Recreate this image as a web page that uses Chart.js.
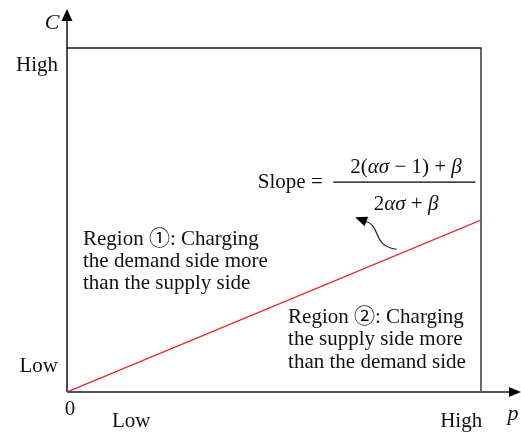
<!DOCTYPE html>
<html>
<head>
<meta charset="utf-8">
<script src="https://cdn.jsdelivr.net/npm/chart.js@4/dist/chart.umd.min.js"></script>
<style>
  html, body { margin: 0; padding: 0; background: #fff; }
  #wrap { width: 521px; height: 433px; }
</style>
</head>
<body>
<div id="wrap"><canvas id="c" width="521" height="433"></canvas></div>
<script>
// Boundary between the two charging regions, in normalised (p, C) units
const pValues = [0, 1];
const cValues = [0, 0.5];

// Qualitative tick marks on both axes
const pTickValues = [0.155, 0.952];
const pTickLabels = ['Low', 'High'];
const cTickValues = [0.073, 0.95];
const cTickLabels = ['Low', 'High'];

const SERIF = '"Liberation Serif", "Times New Roman", serif';
const CJK = '"Noto Sans CJK SC", "DejaVu Sans", sans-serif';
const INK = '#111';

function runFont(r, size) {
  if (r.cjk) return size + 'px ' + CJK;
  return (r.it ? 'italic ' : '') + size + 'px ' + SERIF;
}

// Draws a run of mixed upright / italic text starting at x (or centred on x)
function drawRuns(ctx, runs, x, y, size, centred) {
  let total = 0;
  const widths = runs.map(r => {
    ctx.font = runFont(r, size);
    const w = ctx.measureText(r.t).width;
    total += w;
    return w;
  });
  let cx = centred ? x - total / 2 : x;
  ctx.textAlign = 'left';
  runs.forEach((r, i) => {
    ctx.font = runFont(r, size);
    ctx.fillText(r.t, cx, y);
    cx += widths[i];
  });
}

const decorations = {
  id: 'decorations',
  beforeDatasetsDraw(chart) {
    const { ctx, chartArea: a } = chart;
    ctx.save();
    // top and right frame
    ctx.strokeStyle = '#1a1a1a';
    ctx.lineWidth = 1.3;
    ctx.beginPath();
    ctx.moveTo(a.left, a.top);
    ctx.lineTo(a.right, a.top);
    ctx.lineTo(a.right, a.bottom);
    ctx.stroke();
    ctx.restore();
  },
  afterDraw(chart) {
    const { ctx, scales } = chart;
    const X = v => scales.x.getPixelForValue(v);
    const Y = v => scales.y.getPixelForValue(v);
    ctx.save();

    // C axis with arrow
    const ox = X(0), oy = Y(0);
    ctx.strokeStyle = '#000';
    ctx.lineWidth = 1.4;
    ctx.beginPath();
    ctx.moveTo(ox, oy);
    ctx.lineTo(ox, 18);
    ctx.stroke();
    ctx.fillStyle = '#000';
    ctx.beginPath();
    ctx.moveTo(ox, 9);
    ctx.lineTo(ox - 5.5, 21);
    ctx.lineTo(ox + 5.5, 21);
    ctx.closePath();
    ctx.fill();

    // p axis with arrow
    ctx.strokeStyle = '#555';
    ctx.lineWidth = 2;
    ctx.beginPath();
    ctx.moveTo(ox, oy);
    ctx.lineTo(512, oy);
    ctx.stroke();
    ctx.fillStyle = '#000';
    ctx.beginPath();
    ctx.moveTo(521, oy);
    ctx.lineTo(509, oy - 5);
    ctx.lineTo(509, oy + 5);
    ctx.closePath();
    ctx.fill();

    // axis names and origin
    ctx.fillStyle = INK;
    ctx.textBaseline = 'middle';
    ctx.textAlign = 'center';
    ctx.font = 'italic 22px ' + SERIF;
    ctx.fillText('C', ox - 15, 23);
    ctx.fillText('p', 513, oy + 22);
    ctx.font = '21px ' + SERIF;
    ctx.fillText('0', ox + 3, oy + 17);

    // slope formula
    ctx.textBaseline = 'alphabetic';
    ctx.textAlign = 'left';
    ctx.font = '21px ' + SERIF;
    ctx.fillText('Slope =', X(0.461), Y(0.593));
    ctx.strokeStyle = '#000';
    ctx.lineWidth = 1.2;
    ctx.beginPath();
    ctx.moveTo(X(0.643), Y(0.610));
    ctx.lineTo(X(0.986), Y(0.610));
    ctx.stroke();
    drawRuns(ctx, [
      { t: '2(' }, { t: 'ασ', it: true }, { t: ' − 1) + ' }, { t: 'β', it: true }
    ], X(0.819), Y(0.6375), 21, true);
    drawRuns(ctx, [
      { t: '2' }, { t: 'ασ', it: true }, { t: ' + ' }, { t: 'β', it: true }
    ], X(0.819), Y(0.529), 21, true);

    // curved pointer from the boundary line to the formula
    ctx.strokeStyle = '#222';
    ctx.lineWidth = 1.2;
    ctx.beginPath();
    ctx.moveTo(X(0.796), Y(0.415));
    ctx.bezierCurveTo(X(0.735), Y(0.425), X(0.760), Y(0.485), X(0.72), Y(0.497));
    ctx.stroke();
    ctx.fillStyle = '#000';
    ctx.save();
    const tipX = X(0.696), tipY = Y(0.508);
    const ang = Math.atan2(tipY - Y(0.497), tipX - X(0.72));
    ctx.translate(tipX, tipY);
    ctx.rotate(ang);
    ctx.beginPath();
    ctx.moveTo(0, 0);
    ctx.lineTo(-12, -5);
    ctx.lineTo(-12, 5);
    ctx.closePath();
    ctx.fill();
    ctx.restore();

    // region descriptions
    ctx.fillStyle = INK;
    const size = 21;
    drawRuns(ctx, [{ t: 'Region ' }, { t: '①', cjk: true }, { t: ': Charging' }], X(0.0386), Y(0.427), size, false);
    ctx.font = size + 'px ' + SERIF;
    ctx.fillText('the demand side more', X(0.0386), Y(0.363));
    ctx.fillText('than the supply side', X(0.0386), Y(0.299));

    drawRuns(ctx, [{ t: 'Region ' }, { t: '②', cjk: true }, { t: ': Charging' }], X(0.534), Y(0.2006), size, false);
    ctx.font = size + 'px ' + SERIF;
    ctx.fillText('the supply side more', X(0.534), Y(0.137));
    ctx.fillText('than the demand side', X(0.534), Y(0.070));

    ctx.restore();
  }
};

new Chart(document.getElementById('c'), {
  type: 'line',
  data: {
    datasets: [{
      data: pValues.map((p, i) => ({ x: p, y: cValues[i] })),
      borderColor: '#e8262a',
      borderWidth: 1.3,
      pointRadius: 0,
      fill: false,
      tension: 0
    }]
  },
  options: {
    responsive: false,
    animation: false,
    layout: { padding: { top: 48, right: 40, left: 0, bottom: 0 } },
    plugins: { legend: { display: false }, tooltip: { enabled: false } },
    scales: {
      x: {
        type: 'linear',
        min: 0, max: 1,
        grid: { display: false, drawTicks: false },
        border: { display: false },
        afterFit: s => { s.height = 41; },
        afterBuildTicks: s => { s.ticks = pTickValues.map(v => ({ value: v })); },
        ticks: {
          padding: 17,
          color: INK,
          font: { family: SERIF, size: 21 },
          maxRotation: 0,
          autoSkip: false,
          callback: (v, i) => pTickLabels[i]
        }
      },
      y: {
        type: 'linear',
        min: 0, max: 1,
        grid: { display: false, drawTicks: false },
        border: { display: false },
        afterFit: s => { s.width = 67; },
        afterBuildTicks: s => { s.ticks = cTickValues.map(v => ({ value: v })); },
        ticks: {
          padding: 9,
          color: INK,
          font: { family: SERIF, size: 21 },
          autoSkip: false,
          callback: (v, i) => cTickLabels[i]
        }
      }
    }
  },
  plugins: [decorations]
});
</script>
</body>
</html>
